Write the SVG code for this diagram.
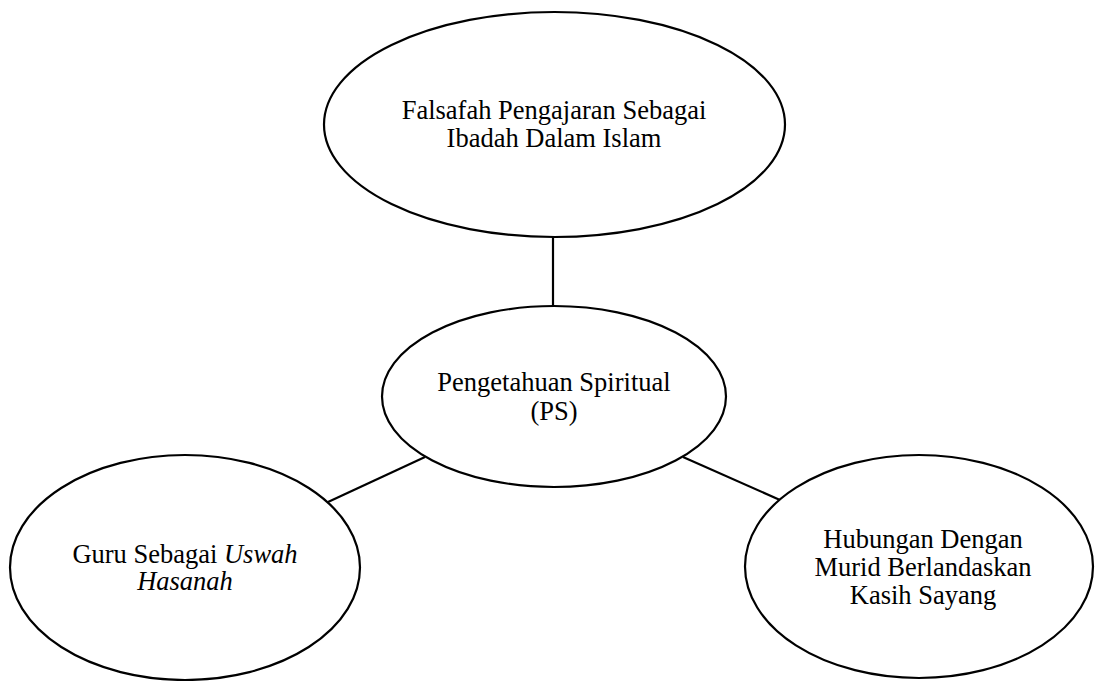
<svg xmlns="http://www.w3.org/2000/svg" width="1095" height="681" viewBox="0 0 1095 681">
<style>
  .node { fill: #ffffff; stroke: #000000; stroke-width: 2.2; }
  .conn { stroke: #000000; stroke-width: 2.2; fill: none; }
  text { font-family: "Liberation Serif", "Times New Roman", serif; font-size: 26.5px; fill: #000000; text-anchor: middle; }
  .it { font-style: italic; }
</style>
<rect width="1095" height="681" fill="#ffffff"/>
<g id="connectors">
  <line class="conn" x1="553" y1="237" x2="553" y2="306"/>
  <line class="conn" x1="328" y1="502" x2="425" y2="457"/>
  <line class="conn" x1="683" y1="457" x2="780" y2="500"/>
</g>
<g id="node-top">
  <ellipse class="node" cx="554.5" cy="124.5" rx="230.5" ry="112.5"/>
  <text x="554" y="119">Falsafah Pengajaran Sebagai</text>
  <text x="554" y="147">Ibadah Dalam Islam</text>
</g>
<g id="node-center">
  <ellipse class="node" cx="554" cy="396.5" rx="172" ry="90.5"/>
  <text x="554" y="391">Pengetahuan Spiritual</text>
  <text x="554" y="420">(PS)</text>
</g>
<g id="node-left">
  <ellipse class="node" cx="185" cy="567.5" rx="175" ry="112.5"/>
  <text x="185" y="563">Guru Sebagai <tspan class="it">Uswah</tspan></text>
  <text x="185" y="590" class="it">Hasanah</text>
</g>
<g id="node-right">
  <ellipse class="node" cx="919" cy="566.5" rx="174" ry="111.5"/>
  <text x="923" y="548">Hubungan Dengan</text>
  <text x="923" y="576">Murid Berlandaskan</text>
  <text x="923" y="604">Kasih Sayang</text>
</g>
</svg>
